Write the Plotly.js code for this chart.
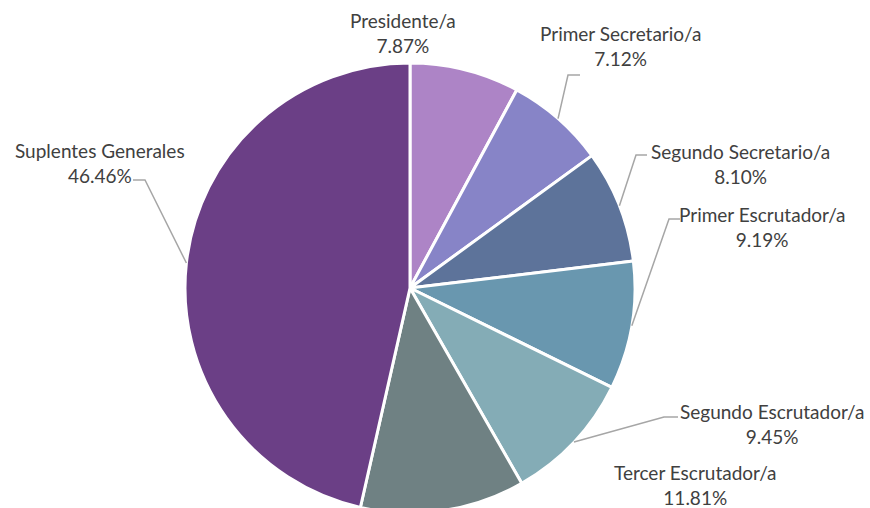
<!DOCTYPE html>
<html><head><meta charset="utf-8">
<script src="https://cdn.plot.ly/plotly-3.0.1.min.js"></script>
<style>html,body{margin:0;padding:0;overflow:hidden;background:#fff}#c{width:870px;height:576px}</style>
</head><body><div id="c"></div>
<script>
const categories = ["Presidente/a","Primer Secretario/a","Segundo Secretario/a","Primer Escrutador/a","Segundo Escrutador/a","Tercer Escrutador/a","Suplentes Generales"];
const values = [7.87, 7.12, 8.10, 9.19, 9.45, 11.81, 46.46];
const colors = ["#AD84C6","#8784C7","#5D739A","#6997AF","#84ACB6","#6F8183","#6B3F86"];

// label layout (pixel positions of label centers) and elbow points of leader lines (null = no line)
const labelPos = [[403,33],[620,46],[740,164],[762,227],[772,424],[695,485],[100,163]];
const elbows = [null,[[580,75],[568,75]],[[647,155],[636,155]],[[680,219],[669,219]],[[678,417],[664,417]],null,[[133,180],[145,180]]];

const W = 870, H = 576, cx = 410, cy = 288, R = 225;
const px = x => x / W, py = y => 1 - y / H;
const total = values.reduce((a,b)=>a+b,0);
let cum = 0;
const annotations = [], shapes = [];
values.forEach((v,i)=>{
  const mid = (cum + v/2) / total * 2 * Math.PI; cum += v;
  const ex = cx + R * Math.sin(mid), ey = cy - R * Math.cos(mid);
  annotations.push({xref:'paper', yref:'paper', x:px(labelPos[i][0]), y:py(labelPos[i][1]), xanchor:'center', yanchor:'middle',
    text: categories[i] + '<br>' + v.toFixed(2) + '%', showarrow:false, align:'center',
    font:{family:'Lato, "Liberation Sans", sans-serif', size:19, color:'#404040'}});
  if (elbows[i]) {
    const pts = elbows[i].concat([[ex,ey]]);
    const path = 'M ' + pts.map(p => px(p[0]) + ',' + py(p[1])).join(' L ');
    shapes.push({type:'path', xref:'paper', yref:'paper', path: path, line:{color:'#A6A6A6', width:1.5}});
  }
});

Plotly.newPlot('c', [{
  type:'pie', labels:categories, values:values, sort:false, direction:'clockwise', rotation:0,
  marker:{colors:colors, line:{color:'#ffffff', width:3}}, textinfo:'none', hoverinfo:'label+percent',
  domain:{x:[(cx-R)/W,(cx+R)/W], y:[1-(cy+R)/H, 1-(cy-R)/H]}
}], {
  width:W, height:H, margin:{l:0,r:0,t:0,b:0}, showlegend:false,
  paper_bgcolor:'#ffffff', annotations:annotations, shapes:shapes
}, {displayModeBar:false, staticPlot:true});
</script></body></html>
